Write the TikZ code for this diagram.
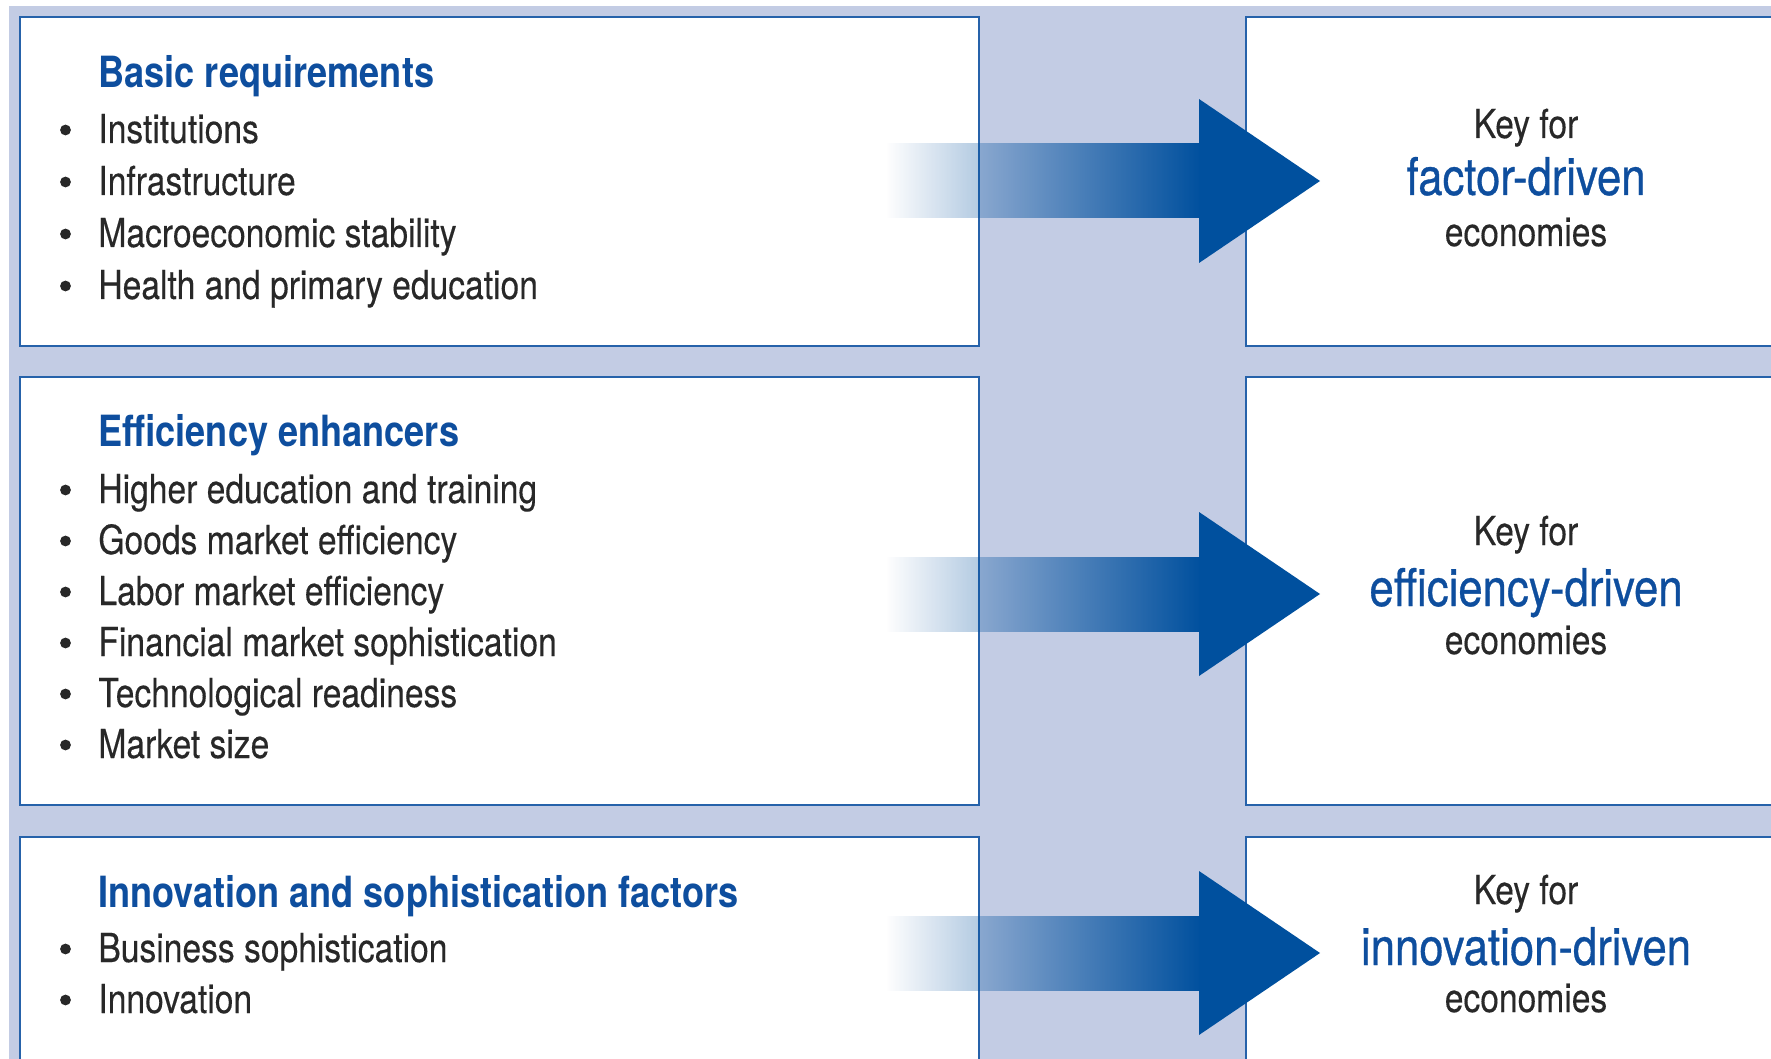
\documentclass[tikz,border=0pt]{standalone}
\usepackage{fontspec}
\setmainfont{TeX Gyre Heros}[FakeStretch=0.84]
\newfontfamily\medfont{TeX Gyre Heros}[FakeStretch=0.84,FakeBold=0.6]
\newfontfamily\itemfont{TeX Gyre Heros}[FakeStretch=0.84,FakeBold=0.3]
\usetikzlibrary{fadings}

\definecolor{bgblue}{RGB}{195,204,228}
\definecolor{lineblue}{RGB}{38,98,170}
\definecolor{arrowblue}{RGB}{0,80,158}
\definecolor{titleblue}{RGB}{14,78,158}
\definecolor{textgray}{RGB}{40,40,40}

\tikzfading[name=shaftfade, left color=transparent!100, right color=transparent!0]

\tikzset{
  box/.style={draw=lineblue, line width=1.2pt, fill=white},
  title/.style={anchor=base west, inner sep=0pt, text=titleblue,
    font=\fontsize{21.5}{26}\selectfont\bfseries},
  item/.style={anchor=base west, inner sep=0pt, text=textgray,
    font=\fontsize{20}{26}\selectfont\itemfont},
  bul/.style={circle, fill=textgray, inner sep=0pt, minimum size=5.4pt},
  keyfor/.style={anchor=base, inner sep=0pt, text=textgray,
    font=\fontsize{20}{26}\selectfont\itemfont},
  keyname/.style={anchor=base, inner sep=0pt, text=titleblue,
    font=\fontsize{26}{30}\selectfont\medfont},
  shaft/.style={fill=arrowblue, path fading=shaftfade},
  head/.style={fill=arrowblue}
}

\begin{document}
\begin{tikzpicture}[x=0.5pt,y=-0.5pt]
 \clip (0,0) rectangle (1771,1059);
 \fill [white] (0,0) rectangle (1771,1059);
 \fill [bgblue] (9,6) rectangle (1771,1059);

 \draw [box] (20,17) rectangle (979,346);
 \draw [box] (20,377) rectangle (979,805);
 \draw [box] (20,837) rectangle (979,1080);
 \draw [box] (1246,17) rectangle (1800,346);
 \draw [box] (1246,377) rectangle (1800,805);
 \draw [box] (1246,837) rectangle (1800,1080);

 \foreach \c in {181,594,953} {
   \fill [shaft] (886,\c-37.5) rectangle (1201,\c+37.5);
   \fill [head] (1199,\c-82) -- (1320,\c) -- (1199,\c+82) -- cycle;
 }

 \node [title] (basic) at (98,88) {Basic requirements};
 \foreach \txt [count=\i] in {Institutions,Infrastructure,Macroeconomic stability,Health and primary education} {
   \node [bul] (basicb\i) at (65.5,130+52*\i-52) {};
   \node [item] (basic\i) at (98,143+52*\i-52) {\txt};
 }

 \node [title] (effic) at (98,446) {Efficiency enhancers};
 \foreach \txt [count=\i] in {Higher education and training,Goods market efficiency,Labor market efficiency,Financial market sophistication,Technological readiness,Market size} {
   \node [bul] (efficb\i) at (65.5,490+51*\i-51) {};
   \node [item] (effic\i) at (98,503+51*\i-51) {\txt};
 }

 \node [title] (innov) at (98,907) {Innovation and sophistication factors};
 \foreach \txt [count=\i] in {Business sophistication,Innovation} {
   \node [bul] (innovb\i) at (65.5,949+51*\i-51) {};
   \node [item] (innov\i) at (98,962+51*\i-51) {\txt};
 }

 \node [keyfor] (key1) at (1526,138) {Key for};
 \node [keyname] (name1) at (1526,195) {factor-driven};
 \node [keyfor] (eco1) at (1526,246) {economies};

 \node [keyfor] (key2) at (1526,545) {Key for};
 \node [keyname] (name2) at (1526,606) {efficiency-driven};
 \node [keyfor] (eco2) at (1526,654) {economies};

 \node [keyfor] (key3) at (1526,904) {Key for};
 \node [keyname] (name3) at (1526,965) {innovation-driven};
 \node [keyfor] (eco3) at (1526,1012) {economies};

\end{tikzpicture}
\end{document}
